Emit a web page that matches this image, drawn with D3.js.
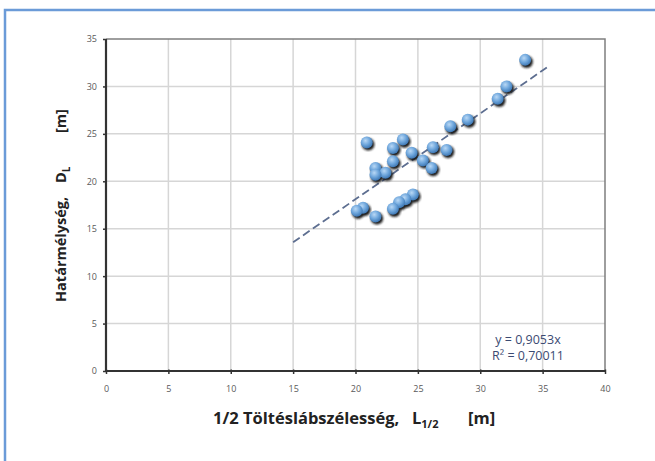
<!DOCTYPE html>
<html><head><meta charset="utf-8">
<script src="https://cdn.jsdelivr.net/npm/d3@7"></script>
<style>html,body{margin:0;padding:0;background:#fff;overflow:hidden}</style>
</head><body>
<svg id="c" width="655" height="461"></svg>
<script>
// Data
const xValues = [33.6, 32.1, 31.4, 29.0, 27.6, 27.3, 26.2, 26.1, 25.4, 24.5, 23.8, 23.0, 23.0, 20.9, 21.6, 22.4, 21.6, 24.6, 24.0, 23.5, 23.0, 20.6, 20.1, 21.6];
const yValues = [32.8, 30.0, 28.7, 26.5, 25.8, 23.3, 23.6, 21.4, 22.2, 23.0, 24.4, 23.5, 22.1, 24.1, 21.4, 20.9, 20.7, 18.6, 18.1, 17.8, 17.1, 17.2, 16.9, 16.3];
const xTicks = [0, 5, 10, 15, 20, 25, 30, 35, 40];
const yTicks = [0, 5, 10, 15, 20, 25, 30, 35];
const slope = 0.9053;
const trendRange = [15, 35.5];
const eqLabels = ["y = 0,9053x", "R² = 0,70011"];

const svg = d3.select("#c");
const m = {l: 106, r: 605, t: 39, b: 371};
const x = d3.scaleLinear().domain([0, 40]).range([m.l, m.r]);
const y = d3.scaleLinear().domain([0, 35]).range([m.b, m.t]);
const tf = "'Open Sans',sans-serif";

// outer blue frame
svg.append("rect").attr("x", 5).attr("y", 10).attr("width", 700).attr("height", 500)
  .attr("fill", "none").attr("stroke", "#6b9bd8").attr("stroke-width", 2.5);

const defs = svg.append("defs");
const g = defs.append("radialGradient").attr("id", "ball").attr("cx", "40%").attr("cy", "35%").attr("r", "65%");
g.append("stop").attr("offset", "0%").attr("stop-color", "#b9d8f5");
g.append("stop").attr("offset", "55%").attr("stop-color", "#6ea6dc");
g.append("stop").attr("offset", "100%").attr("stop-color", "#3f78b4");
defs.append("filter").attr("id", "blur").append("feGaussianBlur").attr("stdDeviation", 0.8);

// grid
svg.append("g").selectAll("line").data(xTicks.slice(1, -1)).join("line")
  .attr("x1", d => x(d)).attr("x2", d => x(d)).attr("y1", m.t).attr("y2", m.b)
  .attr("stroke", "#d6d6d6").attr("stroke-width", 1.5);
svg.append("g").selectAll("line").data(yTicks.slice(1, -1)).join("line")
  .attr("y1", d => y(d)).attr("y2", d => y(d)).attr("x1", m.l).attr("x2", m.r)
  .attr("stroke", "#d6d6d6").attr("stroke-width", 1.5);

// top/right border
svg.append("path").attr("d", `M${m.l},${m.t}H${m.r}V${m.b}`).attr("fill", "none")
  .attr("stroke", "#7f7f7f").attr("stroke-width", 1.5);

// axes
const xAxis = d3.axisBottom(x).tickValues(xTicks).tickSize(3).tickPadding(12);
const yAxis = d3.axisLeft(y).tickValues(yTicks).tickSize(3).tickPadding(6);
const gx = svg.append("g").attr("transform", `translate(0,${m.b})`).call(xAxis);
const gy = svg.append("g").attr("transform", `translate(${m.l},0)`).call(yAxis);
[gx, gy].forEach(a => {
  a.select(".domain").attr("stroke", "#333").attr("stroke-width", 2.2);
  a.selectAll(".tick line").attr("stroke", "#333").attr("stroke-width", 1.5);
  a.selectAll(".tick text").attr("fill", "#5a5a5a").style("font-family", tf).style("font-size", "9px");
});
gx.select(".domain").attr("d", `M${m.l},0H${m.r}`);
gx.selectAll(".tick line").attr("y1", -1.5).attr("y2", 3);
gy.select(".domain").attr("d", `M0,${m.b}V${m.t}`);

// trend line
svg.append("line")
  .attr("x1", x(trendRange[0])).attr("y1", y(slope * trendRange[0]))
  .attr("x2", x(trendRange[1])).attr("y2", y(slope * trendRange[1]))
  .attr("stroke", "#5d6e90").attr("stroke-width", 1.8).attr("stroke-dasharray", "8,4");

// points
const pts = xValues.map((v, i) => [v, yValues[i]]);
svg.append("g").selectAll("circle").data(pts).join("circle")
  .attr("cx", d => x(d[0]) + 1.5).attr("cy", d => y(d[1]) + 2).attr("r", 6.2)
  .attr("fill", "#1a1a1a").attr("filter", "url(#blur)");
svg.append("g").selectAll("circle").data(pts).join("circle")
  .attr("cx", d => x(d[0])).attr("cy", d => y(d[1])).attr("r", 6)
  .attr("fill", "url(#ball)");

// equation
svg.append("g").selectAll("text").data(eqLabels).join("text")
  .attr("x", 528).attr("y", (d, i) => 344 + i * 16).attr("text-anchor", "middle")
  .attr("fill", "#3b4a72").style("font-family", tf).style("font-size", "12.5px")
  .text(d => d);

// axis titles
const xt = svg.append("text").attr("x", 213).attr("y", 424).attr("fill", "#222")
  .style("font-family", tf).style("font-size", "16.5px").style("font-weight", "bold");
xt.append("tspan").text("1/2 Töltéslábszélesség,");
xt.append("tspan").attr("x", 412).text("L");
xt.append("tspan").attr("dy", 4).style("font-size", "11px").text("1/2");
xt.append("tspan").attr("x", 468).attr("dy", -4).text("[m]");

const yt = svg.append("text").attr("transform", "translate(66,302) rotate(-90)").attr("fill", "#222")
  .style("font-family", tf).style("font-size", "14.5px").style("font-weight", "bold");
yt.append("tspan").attr("x", 0).text("Határmélység,");
yt.append("tspan").attr("x", 119).text("D");
yt.append("tspan").attr("dy", 4).style("font-size", "10px").text("L");
yt.append("tspan").attr("x", 169).attr("dy", -4).text("[m]");
</script>
</body></html>
